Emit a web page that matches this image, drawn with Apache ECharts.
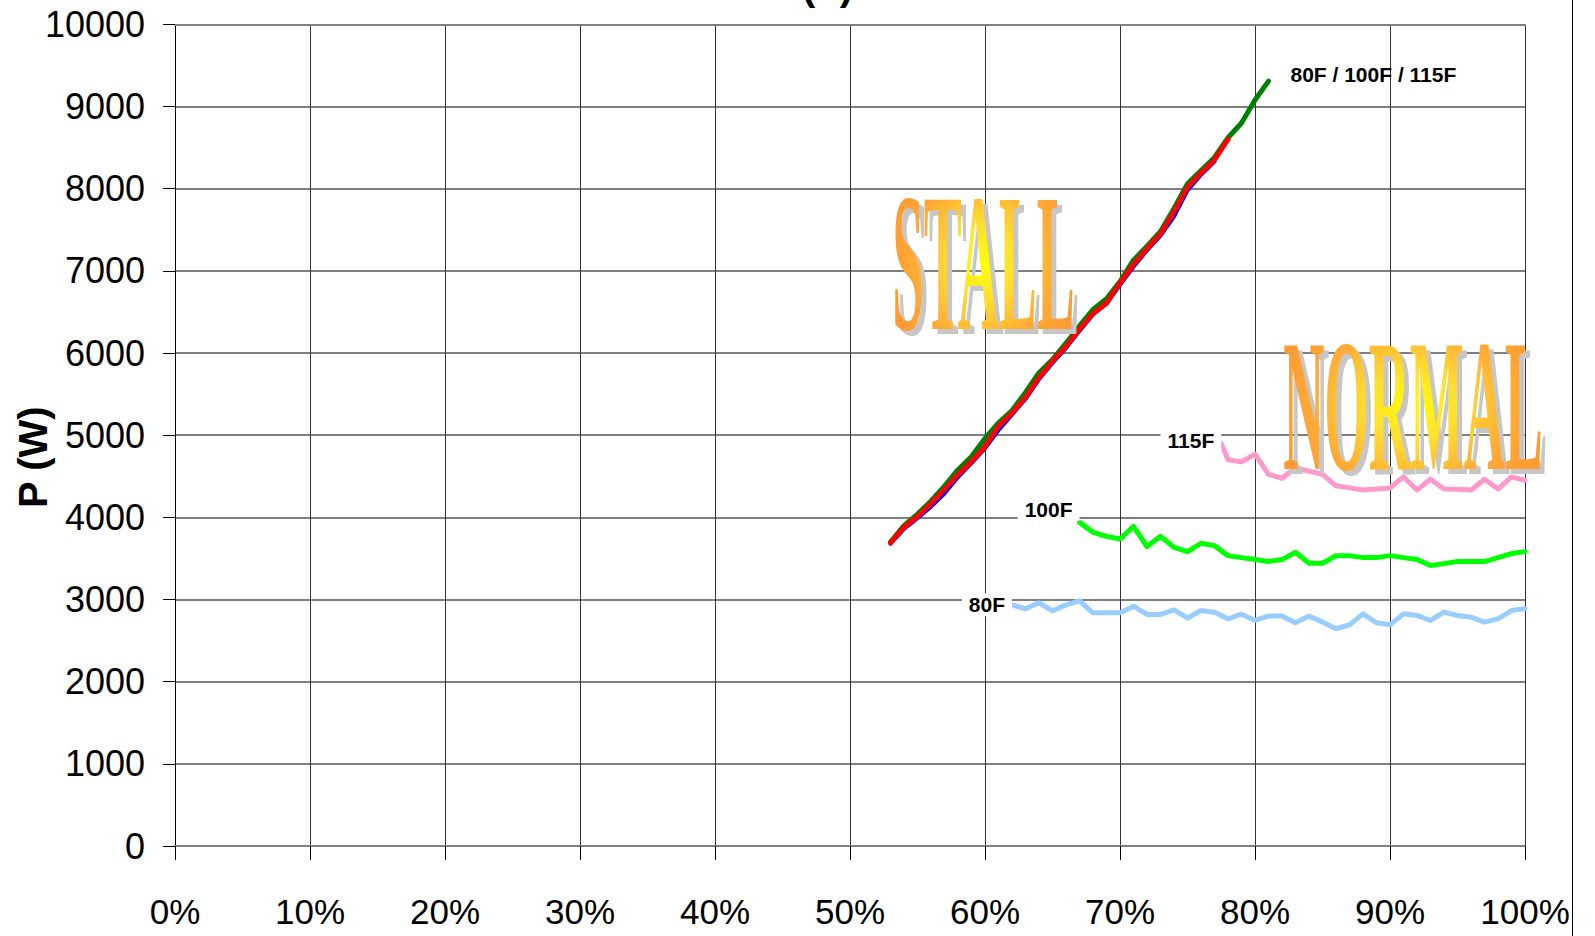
<!DOCTYPE html>
<html>
<head>
<meta charset="utf-8">
<script src="https://cdn.jsdelivr.net/npm/echarts@6/dist/echarts.min.js"></script>
<style>
html,body{margin:0;padding:0;background:#fff;}
#chart{width:1595px;height:936px;}
#defs{position:absolute;left:0;top:0;width:0;height:0;overflow:hidden;}
</style>
</head>
<body>
<svg id="defs" width="0" height="0" aria-hidden="true">
  <defs>
    <radialGradient id="wordGrad" cx="0.5" cy="0.5" r="0.55" gradientUnits="objectBoundingBox">
      <stop offset="0" stop-color="#ffff00"/>
      <stop offset="0.3" stop-color="#ffe030"/>
      <stop offset="0.7" stop-color="#ffaa35"/>
      <stop offset="1" stop-color="#ff9933"/>
    </radialGradient>
  </defs>
</svg>
<div id="chart"></div>
<script>
// ---- data (x in %, y in W) ----
const stall80X  = [53,54,55,56,57,58,59,60,61,62,63,64,65,66,67,68,69,70,71,72,73,74,75,76,77];
const stall80Y  = [3680,3860,3990,4130,4290,4490,4660,4840,5060,5250,5440,5680,5880,6060,6270,6470,6600,6830,7050,7250,7430,7660,7980,8170,8330];
const stall100X = [53,54,55,56,57,58,59,60,61,62,63,64,65,66,67,68,69,70,71,72,73,74,75,76,77,78,79,80,81];
const stall100Y = [3700,3900,4040,4200,4380,4580,4740,4960,5150,5300,5520,5760,5920,6120,6330,6530,6660,6870,7130,7300,7480,7760,8060,8220,8380,8620,8800,9080,9310];
const stall115X = [53,54,55,56,57,58,59,60,61,62,63,64,65,66,67,68,69,70,71,72,73,74,75,76,77,78];
const stall115Y = [3690,3880,4010,4170,4340,4520,4680,4860,5110,5270,5460,5700,5900,6080,6290,6480,6610,6850,7080,7270,7450,7720,8020,8190,8350,8600];

const norm80X  = [62,63,64,65,66,67,68,69,70,71,72,73,74,75,76,77,78,79,80,81,82,83,84,85,86,87,88,89,90,91,92,93,94,95,96,97,98,99,100];
const norm80Y  = [2935,2887,2960,2862,2935,2984,2838,2838,2838,2919,2818,2818,2874,2773,2866,2846,2765,2822,2745,2798,2798,2717,2798,2725,2644,2692,2826,2717,2692,2826,2806,2745,2846,2806,2785,2725,2765,2866,2887];
const norm100X = [67,68,69,70,71,72,73,74,75,76,77,78,79,80,81,82,83,84,85,86,87,88,89,90,91,92,93,94,95,96,97,98,99,100];
const norm100Y = [3939,3818,3769,3737,3891,3644,3769,3636,3583,3684,3656,3534,3510,3486,3462,3486,3575,3441,3441,3534,3534,3510,3510,3534,3510,3486,3413,3437,3462,3462,3462,3510,3559,3583];
const norm115X = [77.5,78,79,80,81,82,83,84,85,86,87,88,89,90,91,92,93,94,95,96,97,98,99,100];
const norm115Y = [4901,4702,4675,4770,4524,4476,4603,4563,4524,4385,4359,4333,4345,4357,4492,4333,4464,4345,4341,4333,4464,4345,4492,4452];

const seriesNames = ['Stall 80F','Stall 100F','Stall 115F','80F','100F','115F'];
const stallLabel = '80F / 100F / 115F';
const titleText = '(b)';
const yName = 'P (W)';
const wordStall = 'STALL';
const wordNormal = 'NORMAL';

// ---- styling ----
const SANS = "'Liberation Sans',Arial,sans-serif";

function build(xs, ys, firstLabel, lastLabel) {
  return xs.map((x, i) => {
    if (i === 0 && firstLabel) return { value: [x, ys[i]], label: firstLabel };
    if (i === xs.length - 1 && lastLabel) return { value: [x, ys[i]], label: lastLabel };
    return [x, ys[i]];
  });
}
function startLabel(text, offY) {
  return {
    show: true, position: 'left', distance: 0, offset: [0, offY],
    formatter: text, fontFamily: SANS, fontWeight: 'bold', fontSize: 21,
    color: '#000', backgroundColor: '#fff', padding: [1, 7, 1, 7]
  };
}
function lineSeries(name, data, color, width, z) {
  return {
    name, type: 'line', data, z,
    showSymbol: true, showAllSymbol: true, symbol: 'circle', symbolSize: 0,
    itemStyle: { color: 'transparent', borderWidth: 0 },
    lineStyle: { color, width, cap: 'round', join: 'round' },
    emphasis: { disabled: true }, silent: true, animation: false
  };
}
function wordArt(text, cx, cy, sy) {
  const font = 'bold 57px "Liberation Serif", "Times New Roman", serif';
  return [
    { type: 'text', x: cx + 5, y: cy + 5, scaleY: sy, z: 50, silent: true,
      style: { text, font, fill: '#c6c6c6', align: 'center', verticalAlign: 'middle' } },
    { type: 'text', x: cx, y: cy, scaleY: sy, z: 51, silent: true,
      style: { text, font, fill: 'url(#wordGrad)', align: 'center', verticalAlign: 'middle' } }
  ];
}

const chart = echarts.init(document.getElementById('chart'), null, { renderer: 'svg' });
chart.setOption({
  animation: false,
  backgroundColor: '#fff',
  title: {
    text: titleText, left: 797, top: -39,
    textStyle: { fontSize: 40, fontWeight: 'bold', fontFamily: SANS, color: '#000' }
  },
  grid: { left: 175, right: 70, top: 24.4, bottom: 90, containLabel: false, outerBoundsMode: 'none' },
  xAxis: [{
    type: 'value', min: 0, max: 100, interval: 10,
    axisLine: { show: true, onZero: false, lineStyle: { color: '#808080', width: 2 } },
    axisTick: { show: true, inside: false, length: 14, lineStyle: { color: '#000', width: 1 } },
    axisLabel: { formatter: '{value}%', margin: 48, fontSize: 35, fontFamily: SANS, color: '#000' },
    splitLine: { show: true, lineStyle: { color: '#333', width: 1 } }
  }, {
    type: 'value', position: 'top', min: 0, max: 100, interval: 10,
    axisLine: { show: true, onZero: false, lineStyle: { color: '#808080', width: 2 } },
    axisTick: { show: false }, axisLabel: { show: false }, splitLine: { show: false }
  }],
  yAxis: {
    type: 'value', min: 0, max: 10000, interval: 1000,
    axisLine: { show: true, lineStyle: { color: '#000', width: 1 } },
    axisTick: { show: true, inside: false, length: 12, lineStyle: { color: '#000', width: 1 } },
    axisLabel: { margin: 30, fontSize: 36, fontFamily: SANS, color: '#000', formatter: v => String(v) },
    splitLine: { show: true, lineStyle: { color: '#555', width: 1.5 } },
    name: yName, nameLocation: 'middle', nameRotate: 90, nameGap: 122, nameMoveOverlap: false,
    nameTextStyle: { fontFamily: SANS, fontWeight: 'bold', fontSize: 40, color: '#000', padding: [0, 44, 0, 0] }
  },
  series: [
    lineSeries(seriesNames[0], build(stall80X, stall80Y), '#0000ff', 4, 3),
    lineSeries(seriesNames[1], build(stall100X, stall100Y, null, {
      show: true, position: 'right', distance: 22, offset: [0, -7], formatter: stallLabel,
      fontFamily: SANS, fontWeight: 'bold', fontSize: 21, color: '#000'
    }), '#008000', 5, 4),
    lineSeries(seriesNames[2], build(stall115X, stall115Y), '#ff0000', 5, 5),
    lineSeries(seriesNames[3], build(norm80X, norm80Y, startLabel('80F', 0)), '#99ccff', 5, 3),
    lineSeries(seriesNames[4], build(norm100X, norm100Y, startLabel('100F', -13)), '#00ff00', 5, 3),
    lineSeries(seriesNames[5], build(norm115X, norm115Y, startLabel('115F', -3)), '#ff99cc', 5, 3)
  ],
  graphic: [
    { type: 'line', silent: true, z: 1, shape: { x1: 1572.5, y1: 0, x2: 1572.5, y2: 936 }, style: { stroke: '#000', lineWidth: 1 } },
    ...wordArt(wordStall, 983.5, 262, 3.45),
    ...wordArt(wordNormal, 1413, 405.5, 3.31)
  ]
});
</script>
</body>
</html>
